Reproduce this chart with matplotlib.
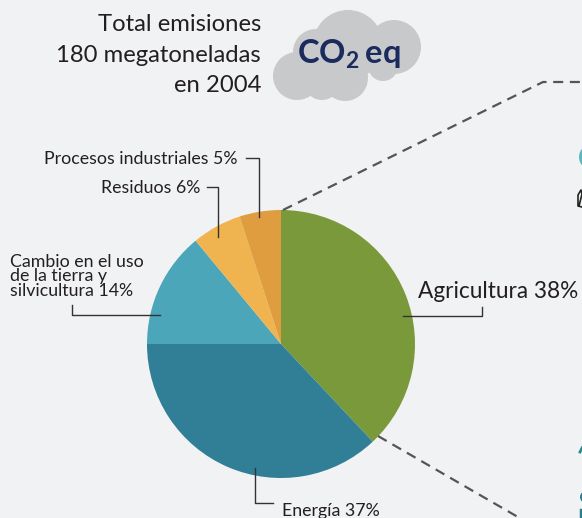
import matplotlib.pyplot as plt
from matplotlib.patches import Circle

W, H = 582, 518

# Datos
sectores = ['Agricultura', 'Energía', 'Cambio en el uso\nde la tierra y\nsilvicultura', 'Residuos', 'Procesos industriales']
porcentajes = [38, 37, 14, 6, 5]
colores = ['#7a993b', '#307f96', '#4ba6ba', '#efb44f', '#df9d40']
titulo = ['Total emisiones', '180 megatoneladas', 'en 2004']

plt.rcParams['font.family'] = ['Lato', 'DejaVu Sans']
plt.rcParams['mathtext.fontset'] = 'custom'
plt.rcParams['mathtext.bf'] = 'Lato:bold'
plt.rcParams['mathtext.rm'] = 'Lato'
fondo = '#f1f2f4'
texto = '#231f20'

fig = plt.figure(figsize=(W / 100, H / 100), dpi=100, facecolor=fondo)
ax = fig.add_axes([0, 0, 1, 1])


def Y(y):
    # coordenadas de pixel (y hacia abajo) a datos
    return H - y


# Pastel
ax.pie(porcentajes, colors=colores, startangle=90, counterclock=False,
       center=(281, Y(344)), radius=134, frame=True,
       wedgeprops=dict(linewidth=0))
ax.set_xlim(0, W)
ax.set_ylim(0, H)
ax.set_aspect('equal')
ax.axis('off')

# Lineas punteadas
ls = (0, (4.5, 3))
ax.plot([283, 543, 582], [Y(210), Y(82), Y(82)], color='#555555', lw=1.6, ls=ls, zorder=1)
ax.plot([378, 530], [Y(436), Y(524)], color='#555555', lw=1.6, ls=ls, zorder=1)

# Titulo
for i, t in enumerate(titulo):
    ax.text(261, Y(31 + i * 30.5), t, ha='right', va='baseline', fontsize=17.2, color=texto)

# Nube
for cx, cy, r in [(297, 76, 24), (316, 52, 23), (348, 45, 35), (394, 47, 27),
                  (345, 78, 23), (383, 66, 15), (322, 82, 18)]:
    ax.add_patch(Circle((cx, Y(cy)), r, color='#c8c9ca', lw=0, zorder=2))
navy = '#1b2b5e'
ax.text(297, Y(64), r'$\mathbf{CO_2\,eq}$', fontsize=23.5, color=navy, va='baseline', zorder=3)

# Etiquetas
lw_l = 1.0
lc = '#333333'
fs = 12.8
ax.text(238, Y(164), f'{sectores[4]} {porcentajes[4]}%', ha='right', va='baseline', fontsize=fs, color=texto)
ax.plot([246, 259, 259], [Y(158), Y(158), Y(217)], color=lc, lw=lw_l)

ax.text(200, Y(193), f'{sectores[3]} {porcentajes[3]}%', ha='right', va='baseline', fontsize=fs, color=texto)
ax.plot([207, 218, 218], [Y(187), Y(187), Y(237)], color=lc, lw=lw_l)

ax.text(10, Y(296), f'{sectores[2]} {porcentajes[2]}%', ha='left', va='baseline', fontsize=fs,
        color=texto, linespacing=0.9)
ax.plot([72, 72, 160], [Y(305), Y(315), Y(315)], color=lc, lw=lw_l)

ax.text(418, Y(298), f'{sectores[0]} {porcentajes[0]}%', ha='left', va='baseline', fontsize=16.3, color=texto)
ax.plot([403, 482, 482], [Y(316), Y(316), Y(307)], color=lc, lw=lw_l)

ax.text(282, Y(516), f'{sectores[1]} {porcentajes[1]}%', ha='left', va='baseline', fontsize=fs, color=texto)
ax.plot([255, 255, 273], [Y(468), Y(503), Y(503)], color=lc, lw=lw_l)

# Elementos cortados en el borde derecho
ax.add_patch(Circle((592, Y(157)), 13, color='#5ab8c0', lw=0))
ax.plot([579, 582, 581, 578, 578, 582], [Y(206), Y(194), Y(190), Y(195), Y(206), Y(207)], color='#222222', lw=1.2)
ax.plot([580, 582], [Y(452), Y(448)], color='#2a8a8a', lw=2)
ax.add_patch(Circle((586, Y(497)), 6, color='#2a7f8f', lw=0))
ax.plot([581, 581], [Y(510), Y(518)], color='#2a7f8f', lw=2.5)

fig.savefig('out.png', dpi=100, facecolor=fondo)
